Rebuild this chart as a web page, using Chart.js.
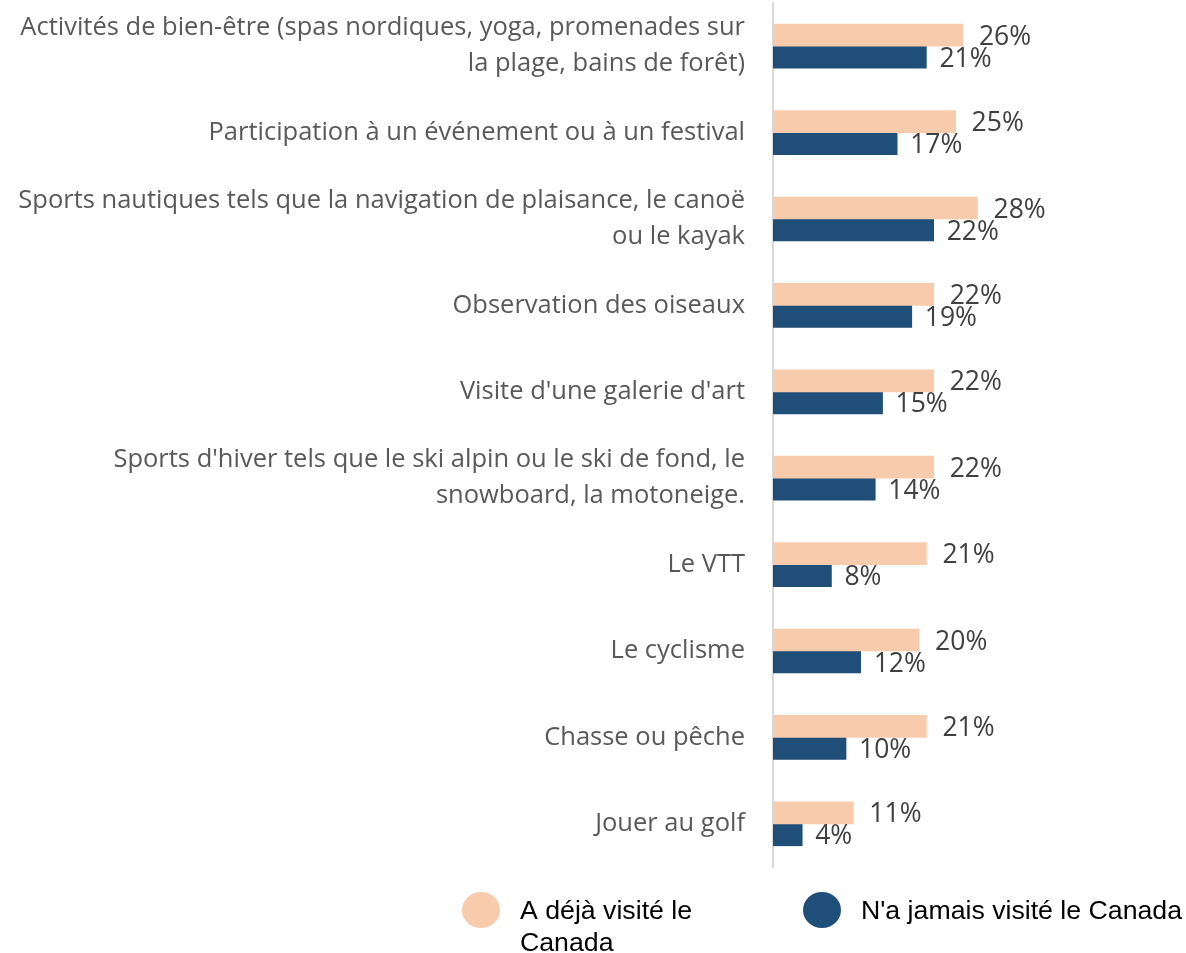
<!DOCTYPE html>
<html>
<head>
<meta charset="utf-8">
<script src="https://cdn.jsdelivr.net/npm/chart.js@4.4.0/dist/chart.umd.min.js"></script>
<style>
  html, body { margin: 0; padding: 0; background: #fff; }
  #wrap { width: 1186px; height: 953px; position: relative; }
</style>
</head>
<body>
<div id="wrap"><canvas id="myChart"></canvas></div>
<script>
// chart data
const categories = [
    ['Activités de bien-être (spas nordiques, yoga, promenades sur', 'la plage, bains de forêt)'],
    'Participation à un événement ou à un festival',
    ['Sports nautiques tels que la navigation de plaisance, le canoë', 'ou le kayak'],
    'Observation des oiseaux',
    "Visite d'une galerie d'art",
    ["Sports d'hiver tels que le ski alpin ou le ski de fond, le", 'snowboard, la motoneige.'],
    'Le VTT',
    'Le cyclisme',
    'Chasse ou pêche',
    'Jouer au golf'
];
const seriesNames = ['A déjà visité le Canada', "N'a jamais visité le Canada"];
const visited = [26, 25, 28, 22, 22, 22, 21, 20, 21, 11];
const neverVisited = [21, 17, 22, 19, 15, 14, 8, 12, 10, 4];
const colors = ['#F8CBAD', '#1F4E79'];

// labels at the end of the bars
const barLabels = {
    id: 'barLabels',
    afterDatasetsDraw(chart){
        const ctx = chart.ctx;
        ctx.save();
        ctx.font = '26.5px "Open Sans"';
        ctx.fillStyle = '#404040';
        ctx.textBaseline = 'middle';
        ctx.textAlign = 'left';
        chart.data.datasets.forEach((ds, i) => {
            const meta = chart.getDatasetMeta(i);
            meta.data.forEach((bar, j) => {
                const off = i == 0 ? 16 : 13;
                ctx.fillText(ds.data[j] + '%', bar.x + off, bar.y + 2);
            });
        });
        ctx.restore();
    }
};

// legend drawn under the chart
const bottomLegend = {
    id: 'bottomLegend',
    afterDraw(chart){
        const ctx = chart.ctx;
        ctx.save();
        ctx.font = '26.7px "Liberation Sans", Arial';
        ctx.textBaseline = 'middle';
        ctx.textAlign = 'left';
        const items = [
            {cx: 481, lines: ['A déjà visité le', 'Canada']},
            {cx: 822, lines: [seriesNames[1]]}
        ];
        items.forEach((it, i) => {
            ctx.fillStyle = colors[i];
            ctx.beginPath();
            ctx.ellipse(it.cx, 910, 19, 18, 0, 0, Math.PI * 2);
            ctx.fill();
            ctx.fillStyle = '#000';
            it.lines.forEach((l, k) => {
                ctx.fillText(l, it.cx + 39, 912 + k * 32);
            });
        });
        ctx.restore();
    }
};

const ctx = document.getElementById('myChart').getContext('2d');
const myChart = new Chart(ctx, {
    type: 'bar',
    data: {
        labels: categories,
        datasets: [{
            label: seriesNames[0],
            data: visited,
            backgroundColor: colors[0],
            barThickness: 22
        }, {
            label: seriesNames[1],
            data: neverVisited,
            backgroundColor: colors[1],
            barThickness: 22
        }]
    },
    options: {
        indexAxis: 'y',
        responsive: true,
        maintainAspectRatio: false,
        animation: false,
        layout: {
            padding: {top: 3, bottom: 86, left: 0, right: 4}
        },
        plugins: {
            legend: {display: false},
            tooltip: {enabled: false}
        },
        scales: {
            x: {
                display: false,
                min: 0,
                max: 56
            },
            y: {
                afterFit(scale){
                    scale.width = 773;
                    scale.paddingTop = 0;
                    scale.paddingBottom = 0;
                },
                grid: {display: false, drawTicks: false},
                border: {display: true, color: '#D9D9D9', width: 2},
                ticks: {
                    color: '#595959',
                    padding: 28,
                    font: {family: 'Open Sans', size: 25.5, lineHeight: 1.41}
                }
            }
        }
    },
    plugins: [barLabels, bottomLegend]
});
</script>
</body>
</html>
